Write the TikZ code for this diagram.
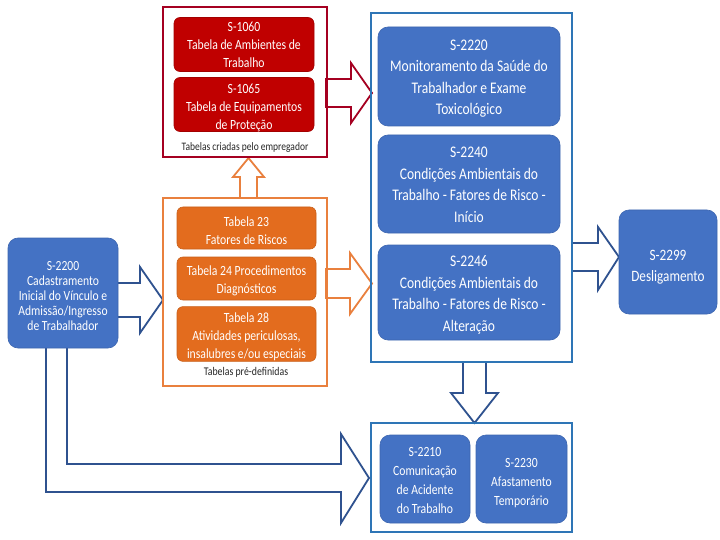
\documentclass[tikz,border=0pt]{standalone}
\usepackage{fontspec}
\setmainfont{Carlito}
\usepackage{graphicx}
\definecolor{bfill}{HTML}{4472C4}
\definecolor{bedge}{HTML}{3D66B0}
\definecolor{bcont}{HTML}{2E75B6}
\definecolor{navy}{HTML}{2F528F}
\definecolor{rfill}{HTML}{C00000}
\definecolor{redge}{HTML}{A50021}
\definecolor{ofill}{HTML}{E36C1E}
\definecolor{oedge}{HTML}{C9601A}
\definecolor{ocont}{HTML}{E9803E}
\definecolor{lbl}{HTML}{262626}
\newcommand{\vtx}[4][3pt]{\raisebox{-#1}[\height][\depth]{\scalebox{1}[1.2]{\fontsize{#2}{#3}\selectfont\begin{tabular}{@{}c@{}}#4\end{tabular}}}}
\begin{document}
\begin{tikzpicture}[x=1pt,y=-1pt,
  bbox/.style={rounded corners=10pt, fill=bfill, draw=bedge, line width=0.6pt, text=white, inner sep=0pt},
  rbox/.style={rounded corners=6pt, fill=rfill, draw=rfill!85!black, line width=0.6pt, text=white, inner sep=0pt},
  obox/.style={rounded corners=6pt, fill=ofill, draw=oedge, line width=0.6pt, text=white, inner sep=0pt},
  cont/.style={line width=2.2pt, inner sep=0pt},
  barrow/.style={fill=white, draw=navy, line width=1.8pt, line join=miter},
  rarrow/.style={fill=white, draw=redge, line width=1.8pt, line join=miter},
  oarrow/.style={fill=white, draw=ocont, line width=1.8pt, line join=miter},
  lab/.style={text=lbl, inner sep=0pt}]
\useasboundingbox (0,0) rectangle (720,540);
\fill[white] (0,0) rectangle (720,540);

% block arrows
\draw[barrow] (117,283) -- (140,283) -- (140,267) -- (163,300) -- (140,333) -- (140,317) -- (117,317) -- cycle;
\draw[rarrow] (326,79) -- (351,79) -- (351,63) -- (372,93) -- (351,123) -- (351,107) -- (326,107) -- cycle;
\draw[oarrow] (326,269) -- (350,269) -- (350,253) -- (372,283.5) -- (350,314) -- (350,298) -- (326,298) -- cycle;
\draw[oarrow] (240,198) -- (240,177) -- (233,177) -- (248.5,158) -- (264,177) -- (257,177) -- (257,198) -- cycle;
\draw[barrow] (572,243) -- (598,243) -- (598,227) -- (619,257) -- (598,290) -- (598,271) -- (572,271) -- cycle;
\draw[barrow] (463,362) -- (463,393) -- (451,393) -- (474.5,423) -- (498,393) -- (486,393) -- (486,362) -- cycle;
\draw[barrow] (67,340) -- (67,464) -- (341,464) -- (341,434) -- (369,478) -- (341,523) -- (341,492) -- (46,492) -- (46,340);

% containers
\node[cont, draw=redge, minimum width=164, minimum height=150] (redc) at (245,82) {};
\node[cont, draw=ocont, minimum width=164, minimum height=188] (orangec) at (245,292) {};
\node[cont, draw=bcont, minimum width=201, minimum height=349] (bluec) at (471.5,187.5) {};
\node[cont, draw=bcont, minimum width=201, minimum height=109] (bottomc) at (471.5,477.5) {};

% red tables
\node[rbox, minimum width=140, minimum height=53] (s1060) at (244,44.5) {\vtx[1.5pt]{11.7}{15}{S-1060\\Tabela de Ambientes de\\Trabalho}};
\node[rbox, minimum width=140, minimum height=51] (s1065) at (244,104.5) {\vtx[3pt]{11.7}{15}{S-1065\\Tabela de Equipamentos\\de Proteção}};
\node[lab] (redlab) at (245,146) {\vtx[1.5pt]{9.5}{11}{Tabelas criadas pelo empregador}};

% orange tables
\node[obox, minimum width=139, minimum height=42] (t23) at (246.5,228) {\vtx[4pt]{11.7}{15}{Tabela 23\\Fatores de Riscos}};
\node[obox, minimum width=139, minimum height=43] (t24) at (246.5,278.5) {\vtx[2.5pt]{11.7}{15}{Tabela 24 Procedimentos\\Diagnósticos}};
\node[obox, minimum width=139, minimum height=52] (t28) at (246.5,334) {\vtx[3pt]{11.7}{15.2}{Tabela 28\\Atividades periculosas,\\insalubres e/ou especiais}};
\node[lab] (orangelab) at (246,372) {\vtx[1pt]{9.8}{11}{Tabelas pré-definidas}};

% left
\node[bbox, minimum width=110, minimum height=110] (s2200) at (63,293) {\vtx[4.5pt]{11.6}{12.4}{S-2200\\Cadastramento\\Inicial do Vínculo e\\Admissão/Ingresso\\de Trabalhador}};

% right column
\node[bbox, minimum width=182, minimum height=99] (s2220) at (469,76.5) {\vtx[1.5pt]{13.5}{17.9}{S-2220\\Monitoramento da Saúde do\\Trabalhador e Exame\\Toxicológico}};
\node[bbox, minimum width=182, minimum height=98] (s2240) at (469,184) {\vtx[1.5pt]{13.5}{17.9}{S-2240\\Condições Ambientais do\\Trabalho - Fatores de Risco -\\Início}};
\node[bbox, minimum width=182, minimum height=95] (s2246) at (469,292.5) {\vtx[2pt]{13.5}{17.9}{S-2246\\Condições Ambientais do\\Trabalho - Fatores de Risco -\\Alteração}};

% bottom
\node[bbox, minimum width=90, minimum height=88] (s2210) at (425,479) {\vtx[2pt]{11.7}{15.8}{S-2210\\Comunicação\\de Acidente\\do Trabalho}};
\node[bbox, minimum width=91, minimum height=88] (s2230) at (521.5,479) {\vtx[3.5pt]{11.7}{15.8}{S-2230\\Afastamento\\Temporário}};

% far right
\node[bbox, minimum width=98, minimum height=104] (s2299) at (668,262) {\vtx[5pt]{13.2}{16.7}{S-2299\\Desligamento}};
\end{tikzpicture}
\end{document}
